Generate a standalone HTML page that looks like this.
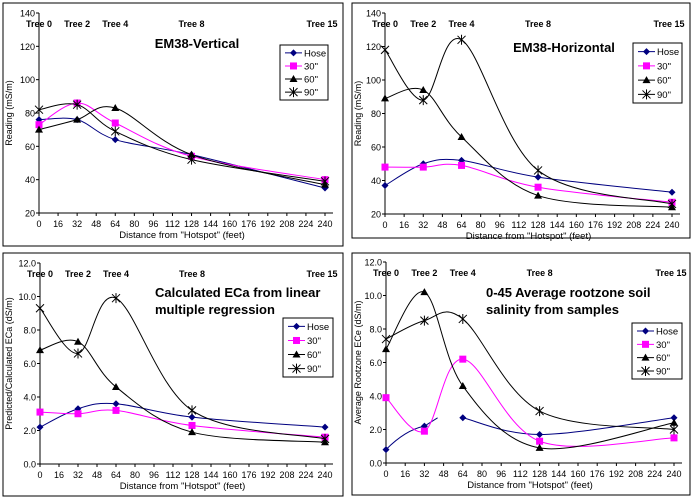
<!DOCTYPE html>
<html><head><meta charset="utf-8">
<style>
body{margin:0;background:#fff;width:699px;height:502px;overflow:hidden;font-family:"Liberation Sans",Arial,sans-serif}
svg{display:block}
</style></head>
<body>
<svg id="chart" width="699" height="502" xmlns="http://www.w3.org/2000/svg"></svg>
<script>
// Shared
const xValues = [0, 32, 64, 128, 240];
const xTicks = [0,16,32,48,64,80,96,112,128,144,160,176,192,208,224,240];
const treeLabels = ["Tree 0","Tree 2","Tree 4","Tree 8","Tree 15"];
const seriesNames = ["Hose","30\"","60\"","90\""];
// Panel 1: EM38-Vertical
const p1Hose = [76,76,64,55,35];
const p1S30 = [73,86,74,54,40];
const p1S60 = [70,76,83,55,37];
const p1S90 = [82,85,69,52,39];
const p1YTicks = [20,40,60,80,100,120,140];
// Panel 2: EM38-Horizontal
const p2Hose = [37,50,52,42,33];
const p2S30 = [48,48,49,36,27];
const p2S60 = [89,94,66,31,24];
const p2S90 = [118,88,124,46,26];
const p2YTicks = [20,40,60,80,100,120,140];
// Panel 3: Calculated ECa
const p3Hose = [2.2,3.3,3.6,2.8,2.2];
const p3S30 = [3.1,3.0,3.2,2.3,1.6];
const p3S60 = [6.8,7.3,4.6,1.9,1.3];
const p3S90 = [9.3,6.6,9.9,3.2,1.5];
const p3YTicks = [0,2,4,6,8,10,12];
// Panel 4: rootzone salinity
const p4Hose = [0.8,2.2,2.7,1.7,2.7];
const p4S30 = [3.9,1.9,6.2,1.3,1.5];
const p4S60 = [6.8,10.2,4.6,0.9,2.4];
const p4S90 = [7.4,8.5,8.6,3.1,2.0];
const p4YTicks = [0,2,4,6,8,10,12];

const NS="http://www.w3.org/2000/svg";
const svg=document.getElementById('chart');
function mk(tag,attrs,parent){const e=document.createElementNS(NS,tag);for(const k in attrs)e.setAttribute(k,attrs[k]);(parent||svg).appendChild(e);return e;}
function txt(s,attrs,parent){const e=mk('text',attrs,parent);e.textContent=s;return e;}

function smoothPath(pts){
  let d=`M${pts[0][0]},${pts[0][1]}`;
  for(let i=0;i<pts.length-1;i++){
    const p0=pts[i-1]||pts[i],p1=pts[i],p2=pts[i+1],p3=pts[i+2]||p2;
    const t=1/6;
    const c1=[p1[0]+(p2[0]-p0[0])*t,p1[1]+(p2[1]-p0[1])*t];
    const c2=[p2[0]-(p3[0]-p1[0])*t,p2[1]-(p3[1]-p1[1])*t];
    d+=` C${c1[0]},${c1[1]} ${c2[0]},${c2[1]} ${p2[0]},${p2[1]}`;
  }
  return d;
}
const colors=["#000080","#ff00ff","#000","#000"];
function marker(g,k,x,y){
  if(k===0){return mk('path',{d:`M${x},${y-3.5}L${x+3.5},${y}L${x},${y+3.5}L${x-3.5},${y}Z`,fill:"#000080"},g);}
  if(k===1){return mk('rect',{x:x-3.5,y:y-3.5,width:7,height:7,fill:"#ff00ff"},g);}
  if(k===2){return mk('path',{d:`M${x},${y-4}L${x+4},${y+3}L${x-4},${y+3}Z`,fill:"#000"},g);}
  return mk('path',{d:`M${x-4},${y-4}L${x+4},${y+4}M${x-4},${y+4}L${x+4},${y-4}M${x},${y-5}L${x},${y+5}`,stroke:"#000","stroke-width":1,fill:"none"},g);
}

function panel(cfg){
  const g=mk('g',{});
  
  
  const box=mk('rect',{x:cfg.box[0],y:cfg.box[1],width:cfg.box[2],height:cfg.box[3],fill:"#fff",stroke:"#000","stroke-width":1},g);
  
  
  const [x0,x1,yT,yB]=cfg.plot;
  const yMin=cfg.yTicks[0],yMax=cfg.yTicks[cfg.yTicks.length-1];
  const sx=v=>x0+(v-0)/(240)*(x1-x0);
  const sy=v=>yB-(v-yMin)/(yMax-yMin)*(yB-yT);
  const ax=mk('path',{d:`M${x0},${yT}L${x0},${yB}L${x1+8},${yB}`,stroke:"#000",fill:"none","stroke-width":1},g);
  
  
  cfg.yTicks.forEach(v=>{
    mk('line',{x1:x0-3,x2:x0,y1:sy(v),y2:sy(v),stroke:"#000"},g);
    const t=txt(cfg.fmt(v),{x:x0-4,y:sy(v)+3.5,"font-size":"9","text-anchor":"end",fill:"#000"},g);
    
    
  });
  xTicks.forEach(v=>{
    mk('line',{x1:sx(v),x2:sx(v),y1:yB,y2:yB+3,stroke:"#000"},g);
    const t=txt(String(v),{x:sx(v),y:yB+14,"font-size":"9","text-anchor":"middle",fill:"#000","textLength":String(v).length*5,"lengthAdjust":"spacingAndGlyphs"},g);
    
    
  });
  const xt=txt('Distance from "Hotspot" (feet)',{x:(x0+x1)/2,y:yB+25,"font-size":"9.5","text-anchor":"middle"},g);
  
  
  const ycx=cfg.box[0]+9,ycy=(yT+yB)/2;
  const yt=txt(cfg.yTitle,{x:ycx,y:ycy,"font-size":"9","text-anchor":"middle",transform:`rotate(-90 ${ycx} ${ycy})`},g);
  
  
  xValues.forEach((v,i)=>{
    const t=txt(treeLabels[i],{x:sx(v)+(i===4?-3:0),y:cfg.treeY,"font-size":"9","font-weight":"bold","text-anchor":"middle"},g);
    
    
  });
  cfg.title.forEach((s,i)=>{
    const t=txt(s,{x:cfg.titlePos[0],y:cfg.titlePos[1]+i*17,"font-size":"13","font-weight":"bold","text-anchor":cfg.titleAnchor}, g);
    
    
  });
  cfg.series.forEach((vals,k)=>{
    const pts=xValues.map((x,i)=>[sx(x),sy(vals[i])]);
    const sg=mk('g',{},g);
    
    
    const p=mk('path',{d:smoothPath(pts),stroke:colors[k],fill:"none","stroke-width":1},sg);
    if(cfg.gap && k===0){
      p.setAttribute('d',`M${pts[0][0]},${pts[0][1]} Q${(pts[0][0]+pts[1][0])/2},${pts[1][1]+4} ${pts[1][0]},${pts[1][1]} L${sx(43)},${sy(vals[2])}`);
      mk('path',{d:smoothPath(pts.slice(2)),stroke:colors[k],fill:"none"},sg);
    }
    pts.forEach(pt=>{const m=marker(sg,k,pt[0],pt[1]);});
  });
  const [lx,ly,lw,lh]=cfg.legend;
  const lg=mk('g',{},g);
  
  
  mk('rect',{x:lx,y:ly,width:lw,height:lh,fill:"#fff",stroke:"#000"},lg);
  seriesNames.forEach((n,k)=>{
    const yy=ly+lh*(k+0.6)/4.2;
    const e=mk('g',{},lg);
    
    
    mk('line',{x1:lx+5,x2:lx+22,y1:yy,y2:yy,stroke:colors[k]},e);
    marker(e,k,lx+13.5,yy);
    txt(n,{x:lx+24,y:yy+3.5,"font-size":"9.5"},e);
  });
}

const f0=v=>String(v), f1=v=>v.toFixed(1);
panel({name:'panel-em38-vertical',box:[3,3,340,243],plot:[39,325,13,213],yTicks:p1YTicks,fmt:f0,
  series:[p1Hose,p1S30,p1S60,p1S90],yTitle:"Reading (mS/m)",treeY:27,title:["EM38-Vertical"],titlePos:[197,48],titleAnchor:"middle",legend:[280,45,48,55]});
panel({name:'panel-em38-horizontal',box:[352,3,338,235],plot:[385,672,13,214],yTicks:p2YTicks,fmt:f0,
  series:[p2Hose,p2S30,p2S60,p2S90],yTitle:"Reading (mS/m)",treeY:27,title:["EM38-Horizontal"],titlePos:[564,52],titleAnchor:"middle",legend:[633,43,49,60]});
panel({name:'panel-calculated-eca',box:[3,253,340,243],plot:[40,325,263,464],yTicks:p3YTicks,fmt:f1,
  series:[p3Hose,p3S30,p3S60,p3S90],yTitle:"Predicted/Calculated ECa (dS/m)",treeY:277,title:["Calculated ECa from linear","multiple regression"],titlePos:[155,297],titleAnchor:"start",legend:[283,318,50,59]});
panel({name:'panel-rootzone-salinity',box:[352,253,338,242],plot:[386,674,262,463],yTicks:p4YTicks,fmt:f1,gap:true,
  series:[p4Hose,p4S30,p4S60,p4S90],yTitle:"Average Rootzone ECe (dS/m)",treeY:276,title:["0-45 Average rootzone soil","salinity from samples"],titlePos:[486,297],titleAnchor:"start",legend:[632,323,50,56]});
</script>
</body></html>
